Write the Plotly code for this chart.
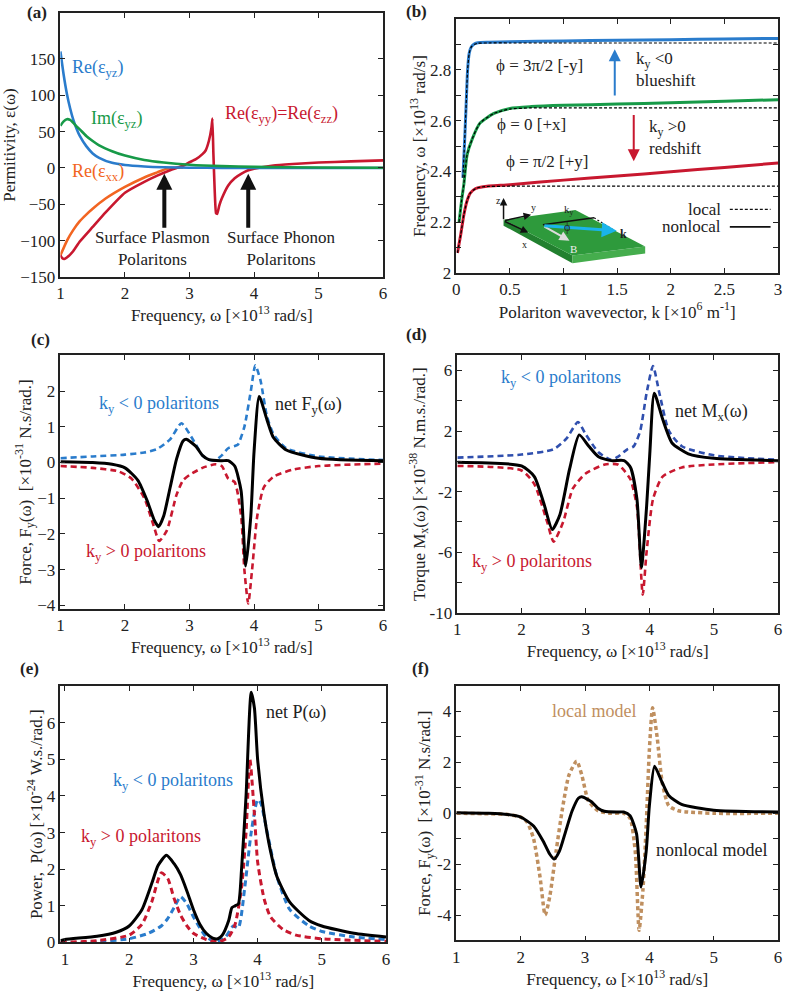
import plotly.graph_objects as go

W, H = 789, 999
FONT = "Liberation Serif"

# ---------------- (a) permittivity ----------------
a_w_yz = [1.0, 1.05, 1.1, 1.15, 1.2, 1.25, 1.3, 1.4, 1.5, 1.6, 1.8, 2.0, 2.3, 2.6, 3.0, 3.5, 4.0, 5.0, 6.0]
a_re_yz = [160, 128, 102, 82, 66, 54, 44, 30, 20, 14, 7, 4, 2, 1, 0.4, 0.1, 0, 0, 0]
a_im_yz = [58, 64, 67, 66, 62, 57, 53, 44, 37, 31, 23, 17, 11, 7.5, 4.5, 2.5, 1.5, 0.7, 0.3]

a_w_xx = [1.0, 1.1, 1.2, 1.3, 1.4, 1.5, 1.7, 2.0, 2.3, 2.5, 2.65, 2.8, 2.9]
a_re_xx = [-120, -100, -85, -73, -64, -56, -42, -26, -13, -6, -1, 0.5, 0.8]

a_w_yy = [1.0, 1.03, 1.06, 1.1, 1.2, 1.3, 1.5, 1.7, 2.0, 2.3, 2.5, 2.7, 2.8, 2.9, 3.0, 3.1, 3.2,
          3.25, 3.3, 3.34, 3.355, 3.37, 3.39, 3.41, 3.43, 3.46, 3.5, 3.6, 3.7, 3.8, 3.9, 4.0,
          4.3, 4.6, 5.0, 5.5, 6.0]
a_re_yy = [-120, -124, -125, -123, -114, -101, -81, -61, -34, -19, -10.5, -3, 0, 3, 8, 12, 19,
           24, 37, 55, 68, 20, -30, -62, -63, -52, -42, -24, -14, -8, -3.5, -1,
           3.5, 5.5, 7.5, 9, 10.5]

# ---------------- (b) dispersion ----------------
b_k_blue = [0.061, 0.075, 0.09, 0.105, 0.12, 0.14, 0.17, 0.2, 0.3, 0.5, 1.0, 1.5, 2.0, 2.5, 3.0]
b_blue_nl = [2.375, 2.5, 2.65, 2.8, 2.865, 2.89, 2.902, 2.906, 2.908, 2.91, 2.913, 2.916, 2.918, 2.921, 2.923]
b_blue_loc = [2.375, 2.5, 2.65, 2.8, 2.865, 2.89, 2.9, 2.904, 2.905, 2.905, 2.905, 2.905, 2.905, 2.905, 2.905]

b_k_green = [0.025, 0.05, 0.07, 0.1, 0.15, 0.22, 0.35, 0.5, 0.7, 1.0, 1.5, 2.0, 2.5, 3.0]
b_green_nl = [2.2, 2.29, 2.35, 2.465, 2.53, 2.59, 2.628, 2.648, 2.655, 2.66, 2.665, 2.67, 2.676, 2.682]
b_green_loc = [2.2, 2.29, 2.35, 2.465, 2.53, 2.59, 2.628, 2.645, 2.65, 2.65, 2.65, 2.65, 2.65, 2.65]

b_k_red = [0.01, 0.04, 0.07, 0.1, 0.13, 0.18, 0.25, 0.5, 1.0, 1.5, 2.0, 2.5, 3.0]
b_red_nl = [2.08, 2.15, 2.23, 2.285, 2.315, 2.333, 2.34, 2.348, 2.366, 2.382, 2.399, 2.416, 2.433]
b_red_loc = [2.08, 2.15, 2.23, 2.285, 2.315, 2.333, 2.34, 2.342, 2.342, 2.342, 2.342, 2.342, 2.342]

# ---------------- (c) force ----------------
c_w_neg = [1.0, 1.5, 2.0, 2.3, 2.5, 2.7, 2.875, 3.0, 3.1, 3.2, 3.3, 3.4, 3.5, 3.6, 3.7, 3.75,
           3.85, 3.95, 4.02, 4.1, 4.2, 4.3, 4.5, 5.0, 6.0]
c_f_neg = [0.12, 0.17, 0.22, 0.28, 0.38, 0.65, 1.1, 0.8, 0.5, 0.2, 0.08, 0.06, 0.2, 0.4, 0.46, 0.5,
           1.0, 2.0, 2.72, 2.3, 1.3, 0.8, 0.4, 0.17, 0.07]
c_w_pos = [1.0, 1.5, 1.9, 2.1, 2.3, 2.45, 2.53, 2.65, 2.8, 2.9, 3.0, 3.2, 3.4, 3.5, 3.6, 3.7,
           3.8, 3.85, 3.91, 3.97, 4.05, 4.15, 4.3, 4.6, 5.0, 6.0]
c_f_pos = [-0.1, -0.15, -0.25, -0.45, -1.0, -1.8, -2.2, -1.9, -0.9, -0.5, -0.35, -0.15, -0.05, -0.1, -0.45, -0.55,
           -1.5, -3.0, -3.95, -3.0, -1.5, -0.7, -0.4, -0.2, -0.1, -0.03]
c_w_net = [1.0, 1.5, 1.8, 2.0, 2.2, 2.35, 2.45, 2.52, 2.6, 2.7, 2.8, 2.9, 2.95, 3.1, 3.2, 3.3,
           3.5, 3.6, 3.7, 3.8, 3.87, 3.95, 4.0, 4.08, 4.2, 4.3, 4.5, 5.0, 6.0]
c_f_net = [0.02, 0.0, -0.05, -0.15, -0.5, -1.1, -1.6, -1.8, -1.5, -0.7, 0.1, 0.6, 0.65, 0.45, 0.2, 0.08,
           0.05, 0.05, -0.1, -0.8, -2.9, -1.5, 0.3, 1.85, 1.2, 0.7, 0.35, 0.12, 0.05]

# ---------------- (d) torque ----------------
d_w_neg = [1.0, 2.0, 2.5, 2.7, 2.88, 3.0, 3.2, 3.4, 3.5, 3.65, 3.75, 3.85, 3.95, 4.05, 4.15,
           4.3, 4.5, 5.0, 6.0]
d_m_neg = [0.25, 0.45, 0.8, 1.5, 2.6, 1.8, 0.6, 0.1, 0.3, 0.8, 1.0, 2.0, 4.5, 6.3, 4.5,
           2.0, 1.0, 0.4, 0.1]
d_w_pos = [1.0, 2.0, 2.2, 2.4, 2.5, 2.65, 2.8, 3.0, 3.3, 3.5, 3.6, 3.7, 3.8, 3.89, 3.95,
           4.05, 4.2, 4.5, 5.0, 6.0]
d_m_pos = [-0.3, -0.6, -1.5, -4.0, -5.3, -4.0, -1.8, -0.8, -0.2, -0.2, -0.6, -1.2, -3.0, -8.8, -6.0,
           -2.5, -1.0, -0.4, -0.2, -0.05]
d_w_net = [1.0, 2.0, 2.2, 2.35, 2.48, 2.6, 2.75, 2.9, 3.05, 3.2, 3.4, 3.6, 3.7, 3.8, 3.87,
           3.95, 4.0, 4.07, 4.2, 4.35, 4.6, 5.0, 6.0]
d_m_net = [-0.05, -0.3, -1.0, -2.8, -4.5, -3.5, -0.5, 1.75, 1.0, 0.3, 0.05, 0.05, -0.4, -2.5, -7.0,
           -3.0, 0.5, 4.5, 2.8, 1.2, 0.5, 0.2, 0.05]

# ---------------- (e) power ----------------
e_w_net = [0.93, 1.0, 1.5, 1.8, 2.0, 2.2, 2.35, 2.45, 2.58, 2.7, 2.8, 2.9, 3.0, 3.1, 3.2, 3.3,
           3.38, 3.45, 3.55, 3.6, 3.65, 3.7, 3.75, 3.82, 3.9, 3.95, 4.0, 4.1, 4.2, 4.3, 4.5,
           4.8, 5.0, 5.5, 6.0]
e_p_net = [0.05, 0.08, 0.17, 0.28, 0.45, 0.9, 1.6, 2.1, 2.38, 2.15, 1.85, 1.4, 0.9, 0.5, 0.25, 0.12,
           0.1, 0.2, 0.6, 0.95, 1.0, 1.05, 2.0, 4.0, 6.83, 6.4, 5.0, 3.5, 2.5, 1.8, 1.1,
           0.6, 0.45, 0.25, 0.15]
e_w_pos = [0.93, 1.5, 2.0, 2.2, 2.35, 2.5, 2.6, 2.7, 2.8, 2.9, 3.0, 3.2, 3.4, 3.55, 3.65, 3.75,
           3.82, 3.88, 3.95, 4.0, 4.1, 4.2, 4.4, 4.6, 5.0, 6.0]
e_p_pos = [0.0, 0.05, 0.2, 0.5, 1.1, 1.9, 1.75, 1.2, 0.75, 0.45, 0.25, 0.08, 0.02, 0.15, 0.5, 1.5,
           3.0, 5.0, 3.5, 2.2, 1.2, 0.7, 0.35, 0.2, 0.1, 0.03]
e_w_neg = [0.93, 1.5, 2.0, 2.3, 2.5, 2.6, 2.7, 2.8, 2.9, 3.0, 3.1, 3.2, 3.35, 3.5, 3.62, 3.7,
           3.8, 3.9, 4.0, 4.05, 4.15, 4.3, 4.5, 4.8, 5.0, 5.5, 6.0]
e_p_neg = [-0.02, 0.02, 0.1, 0.25, 0.45, 0.65, 0.95, 1.25, 1.05, 0.7, 0.4, 0.15, 0.02, 0.15, 0.45, 0.4,
           1.5, 3.0, 3.9, 3.8, 3.0, 1.8, 0.9, 0.45, 0.3, 0.15, 0.08]

# ---------------- (f) local vs nonlocal ----------------
f_w_nl = c_w_net
f_f_nl = c_f_net
f_w_loc = [1.0, 1.5, 1.8, 2.0, 2.1, 2.2, 2.3, 2.38, 2.45, 2.55, 2.65, 2.75, 2.87, 2.95, 3.05, 3.2,
           3.4, 3.6, 3.7, 3.78, 3.84, 3.9, 3.95, 4.0, 4.05, 4.12, 4.2, 4.3, 4.45, 4.6, 5.0, 6.0]
f_f_loc = [0.0, -0.02, -0.05, -0.15, -0.35, -1.0, -2.5, -4.0, -3.3, -1.5, 0.2, 1.5, 2.05, 1.5, 0.5, 0.1,
           0.0, 0.0, -0.2, -1.5, -4.6, -3.0, -0.5, 2.5, 4.15, 3.0, 1.2, 0.3, 0.1, 0.05, 0.0, 0.0]

BLUE = "#2a7ccc"
GREEN = "#179a48"
RED = "#c8182f"
ORANGE = "#f26522"
NAVY = "#2f4fae"
TAN = "#bf8f5f"
INK = "#222222"

fig = go.Figure()


def ax_names(n):
    return ("x", "y") if n == 1 else (f"x{n}", f"y{n}")


def add_line(n, xs, ys, color, width=2.6, dash="solid", smooth=0.6):
    xa, ya = ax_names(n)
    fig.add_trace(go.Scatter(x=xs, y=ys, xaxis=xa, yaxis=ya, mode="lines",
                             line=dict(color=color, width=width, dash=dash, shape="spline", smoothing=smooth),
                             showlegend=False, hoverinfo="skip"))


# (a)
add_line(1, a_w_xx, a_re_xx, ORANGE)
add_line(1, a_w_yy, a_re_yy, RED, smooth=0.3)
add_line(1, a_w_yz, a_re_yz, BLUE)
add_line(1, a_w_yz, a_im_yz, GREEN)

# (b)
add_line(2, b_k_blue, b_blue_nl, BLUE, width=3)
add_line(2, b_k_green, b_green_nl, GREEN, width=3)
add_line(2, b_k_red, b_red_nl, RED, width=3)
for xs, ys in [(b_k_blue, b_blue_loc), (b_k_green, b_green_loc), (b_k_red, b_red_loc)]:
    add_line(2, xs, ys, "black", width=1.2, dash="3px,2px")

# (c)
add_line(3, c_w_neg, c_f_neg, BLUE, dash="6px,4px")
add_line(3, c_w_pos, c_f_pos, RED, dash="6px,4px")
add_line(3, c_w_net, c_f_net, "black", width=3)

# (d)
add_line(4, d_w_neg, d_m_neg, NAVY, dash="6px,4px")
add_line(4, d_w_pos, d_m_pos, RED, dash="6px,4px")
add_line(4, d_w_net, d_m_net, "black", width=3)

# (e)
add_line(5, e_w_neg, e_p_neg, BLUE, width=3, dash="6px,4px")
add_line(5, e_w_pos, e_p_pos, RED, width=3, dash="6px,4px")
add_line(5, e_w_net, e_p_net, "black", width=3)

# (f)
add_line(6, f_w_loc, f_f_loc, TAN, width=3.5, dash="4px,3px")
add_line(6, f_w_nl, f_f_nl, "black", width=3)


def dom_x(p0, p1):
    return [p0 / W, p1 / W]


def dom_y(p0, p1):
    return [1 - p1 / H, 1 - p0 / H]


def axis(domain, rng, tickvals, anchor, title, ticktext=None):
    d = dict(domain=domain, range=rng, tickvals=tickvals, anchor=anchor,
             ticks="inside", ticklen=5, tickwidth=1, tickcolor=INK,
             showline=True, linecolor=INK, linewidth=1.5, mirror="ticks",
             showgrid=False, zeroline=False, ticklabeloverflow="allow",
             tickfont=dict(family=FONT, size=17, color=INK),
             title=dict(text=title, font=dict(family=FONT, size=17, color=INK), standoff=0))
    if ticktext is not None:
        d["ticktext"] = ticktext
    return d


xt = "Frequency, ω [×10<sup>13</sup> rad/s]"
boxes = {
    1: (57, 13, 383, 280),
    2: (457, 19, 782, 276),
    3: (57, 359, 383, 615),
    4: (458, 359, 782, 619),
    5: (57, 693, 386, 952),
    6: (457, 693, 782, 950),
}

layout = dict(width=W, height=H, margin=dict(l=0, r=0, t=0, b=0),
              paper_bgcolor="white", plot_bgcolor="white",
              font=dict(family=FONT, size=17, color=INK))

b_ticks = [2 + 0.1 * i for i in range(10)]
b_text = ["2", "", "2.2", "", "2.4", "", "2.6", "", "2.8", ""]
d_ticks = [-10, -8, -6, -4, -2, 0, 2, 4, 6]
d_text = ["-10", "", "-6", "", "-2", "", "2", "", "6"]
f_ticks = [-5, -4, -3, -2, -1, 0, 1, 2, 3, 4, 5]
f_text = ["", "-4", "", "-2", "", "0", "", "2", "", "4", ""]

specs = {
    1: dict(xr=[1, 6], xt=[1, 2, 3, 4, 5, 6], xtitle=xt, yr=[-150, 213], yt=[-150, -100, -50, 0, 50, 100, 150],
            ytitle="Permitivity, ε(ω)"),
    2: dict(xr=[0, 3], xt=[0, 0.5, 1, 1.5, 2, 2.5, 3], xtitle="Polariton wavevector, k [×10<sup>6</sup> m<sup>-1</sup>]",
            yr=[2, 3], yt=b_ticks, ytext=b_text, ytitle="Frequency, ω [×10<sup>13</sup> rad/s]"),
    3: dict(xr=[1, 6], xt=[1, 2, 3, 4, 5, 6], xtitle=xt, yr=[-4.1, 3], yt=[-4, -3, -2, -1, 0, 1, 2],
            ytitle="Force, F<sub>y</sub>(ω)  [×10<sup>-31</sup> N.s/rad.]"),
    4: dict(xr=[1, 6], xt=[1, 2, 3, 4, 5, 6], xtitle=xt, yr=[-10, 7], yt=d_ticks, ytext=d_text,
            ytitle="Torque M<sub>x</sub>(ω) [×10<sup>-38</sup> N.m.s./rad.]"),
    5: dict(xr=[0.93, 6], xt=[1, 2, 3, 4, 5, 6], xtitle=xt, yr=[0, 7], yt=[0, 1, 2, 3, 4, 5, 6],
            ytitle="Power,  P(ω) [×10<sup>-24</sup> W.s./rad.]"),
    6: dict(xr=[1, 6], xt=[1, 2, 3, 4, 5, 6], xtitle=xt, yr=[-5, 5], yt=f_ticks, ytext=f_text,
            ytitle="Force, F<sub>y</sub>(ω)  [×10<sup>-31</sup> N.s/rad.]"),
}

for n, s in specs.items():
    x0, y0, x1, y1 = boxes[n]
    xa, ya = ax_names(n)
    layout["xaxis" if n == 1 else f"xaxis{n}"] = axis(dom_x(x0, x1), s["xr"], s["xt"], ya, s["xtitle"])
    layout["yaxis" if n == 1 else f"yaxis{n}"] = axis(dom_y(y0, y1), s["yr"], s["yt"], xa, s["ytitle"],
                                                       s.get("ytext"))

fig.update_layout(**layout)

ann = []


def txt(n, x, y, text, color=INK, size=17, **kw):
    xa, ya = ax_names(n)
    d = dict(x=x, y=y, xref=xa, yref=ya, text=text, showarrow=False,
             font=dict(family=FONT, size=size, color=color))
    d.update(kw)
    ann.append(d)


def arrow(n, x, y, ax_, ay_, color, width, size=1.0, head=2):
    xa, ya = ax_names(n)
    ann.append(dict(x=x, y=y, ax=ax_, ay=ay_, xref=xa, yref=ya, axref=xa, ayref=ya, text="",
                    showarrow=True, arrowhead=head, arrowsize=size, arrowwidth=width, arrowcolor=color))


# panel letters
for lab, px, py in [("(a)", 33, 13), ("(b)", 417, 12), ("(c)", 37, 343),
                    ("(d)", 417, 338), ("(e)", 26, 675), ("(f)", 421, 675)]:
    ann.append(dict(x=px / W, y=1 - py / H, xref="paper", yref="paper", text=f"<b>{lab}</b>",
                    xanchor="center", yanchor="middle",
                    showarrow=False, font=dict(family=FONT, size=17, color=INK)))

# (a) labels
txt(1, 1.57, 136, "Re(ε<sub>yz</sub>)", BLUE, 18)
txt(1, 1.87, 67, "Im(ε<sub>yz</sub>)", GREEN, 18)
txt(1, 4.43, 74, "Re(ε<sub>yy</sub>)=Re(ε<sub>zz</sub>)", RED, 18)
txt(1, 1.58, -6, "Re(ε<sub>xx</sub>)", ORANGE, 18)
txt(1, 2.42, -111, "Surface Plasmon<br>Polaritons", size=17)
txt(1, 4.42, -111, "Surface Phonon<br>Polaritons", size=17)
arrow(1, 2.61, -8, 2.61, -84, "#111", 4, 0.8)
arrow(1, 3.91, -8, 3.91, -84, "#111", 4, 0.8)

# (b) labels
txt(2, 0.774, 2.817, "ϕ = 3π/2 [-y]")
txt(2, 0.697, 2.583, "ϕ = 0 [+x]")
txt(2, 0.85, 2.44, "ϕ = π/2 [+y]")
txt(2, 1.654, 2.80, "k<sub>y</sub> <0<br>blueshift", xanchor="left", align="left")
txt(2, 1.777, 2.535, "k<sub>y</sub> >0<br>redshift", xanchor="left", align="left")
arrow(2, 1.477, 2.88, 1.477, 2.693, BLUE, 2, 1.2)
arrow(2, 1.654, 2.44, 1.654, 2.628, RED, 2, 1.2)
txt(2, 2.49, 2.251, "local", xanchor="right")
txt(2, 2.49, 2.182, "nonlocal", xanchor="right")

# (b) inset: slab with axes and wavevector
inset_shapes = [
    ("M 0.44,2.187 L 1.083,2.039 L 1.083,2.070 L 0.44,2.210 Z", "#22802f"),
    ("M 1.083,2.039 L 1.761,2.078 L 1.761,2.105 L 1.083,2.070 Z", "#45ad4d"),
    ("M 0.44,2.210 L 1.110,2.249 L 1.761,2.105 L 1.083,2.070 Z", "#2e9a3c"),
]
shapes = []
for path, col in inset_shapes:
    shapes.append(dict(type="path", path=path, xref="x2", yref="y2", fillcolor=col,
                       line=dict(width=0), layer="above"))
shapes.append(dict(type="line", x0=0.807, y0=2.191, x1=1.284, y1=2.218, xref="x2", yref="y2",
                   line=dict(color="#111", width=1.5)))
shapes.append(dict(type="line", x0=1.284, y0=2.218, x1=1.477, y1=2.167, xref="x2", yref="y2",
                   line=dict(color="#111", width=1.2, dash="2px,2px")))
# legend samples
shapes.append(dict(type="line", x0=2.55, y0=2.251, x1=2.93, y1=2.251, xref="x2", yref="y2",
                   line=dict(color="#111", width=1.2, dash="3px,2px")))
shapes.append(dict(type="line", x0=2.55, y0=2.182, x1=2.93, y1=2.182, xref="x2", yref="y2",
                   line=dict(color="#111", width=1.8)))

arrow(2, 0.44, 2.296, 0.44, 2.206, "#111", 1.5, 1.0)
arrow(2, 0.697, 2.23, 0.44, 2.206, "#111", 1.5, 1.0)
arrow(2, 0.67, 2.16, 0.44, 2.206, "#111", 1.5, 1.0)
arrow(2, 1.055, 2.128, 0.807, 2.187, "#dcdcdc", 2, 1.0)
arrow(2, 1.495, 2.167, 0.807, 2.187, "#1ab4ea", 3, 1.0)
txt(2, 0.394, 2.284, "z", size=10)
txt(2, 0.716, 2.257, "y", size=10)
txt(2, 0.633, 2.113, "x", size=10)
txt(2, 1.055, 2.249, "k<sub>y</sub>", size=11)
txt(2, 1.56, 2.156, "<b>k</b>", size=12)
txt(2, 1.092, 2.097, "B", "#eeeeee", 11)
txt(2, 1.028, 2.183, "ϕ", size=12)

# (c) labels
txt(3, 2.53, 1.62, "k<sub>y</sub> < 0 polaritons", BLUE, 18)
txt(3, 2.33, -2.52, "k<sub>y</sub> > 0 polaritons", RED, 18)
txt(3, 4.84, 1.6, "net F<sub>y</sub>(ω)", size=18)

# (d) labels
txt(4, 2.61, 5.46, "k<sub>y</sub> < 0 polaritons", BLUE, 18)
txt(4, 2.17, -6.65, "k<sub>y</sub> > 0 polaritons", RED, 18)
txt(4, 4.96, 3.2, "net M<sub>x</sub>(ω)", size=18)

# (e) labels
txt(5, 4.6, 6.29, "net P(ω)", size=18)
txt(5, 2.69, 4.39, "k<sub>y</sub> < 0 polaritons", BLUE, 18)
txt(5, 2.19, 2.875, "k<sub>y</sub> > 0 polaritons", RED, 18)

# (f) labels
txt(6, 3.14, 4.03, "local model", TAN, 18)
txt(6, 4.96, -1.43, "nonlocal model", size=18)

fig.update_layout(annotations=ann, shapes=shapes)
# the page's default body margin would shift the whole figure
fig.write_html("out.html", config={"displayModeBar": False},
               post_script="document.body.style.margin='0px';")
